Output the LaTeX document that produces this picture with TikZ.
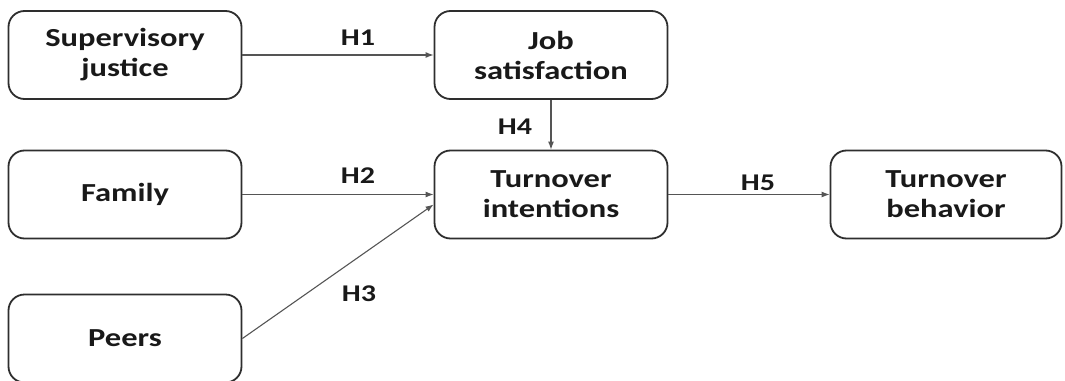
\documentclass[tikz,border=0pt]{standalone}
\usepackage{fontspec}
\setmainfont{Carlito}[FakeStretch=1.25]
\usetikzlibrary{arrows.meta}
\definecolor{boxline}{HTML}{2E2E2E}
\definecolor{arrline}{HTML}{555555}
\tikzset{
  box/.style={draw=boxline, line width=1.8pt, rounded corners=16pt, minimum width=233pt, minimum height=88pt, align=center, font=\fontsize{26}{30}\selectfont\bfseries, text=black!90, inner sep=0pt},
  conn/.style={draw=arrline, line width=1.1pt, -{Latex[length=8pt,width=6pt]}},
  hlab/.style={font=\fontsize{24}{26}\selectfont\bfseries, text=black!90, inner sep=0pt}
}
\begin{document}
\begin{tikzpicture}[x=1pt,y=-1pt]
\useasboundingbox (0,0) rectangle (1065,380);
\begin{scope}
\clip (0,0) rectangle (1065,380);
\node[box] (sj) at (125,55) {Supervisory\\justice};
\node[box] (js) at (551,55) {Job\\satisfaction};
\node[box] (fam) at (125,194.5) {Family};
\node[box] (ti) at (551,194.5) {Turnover\\intentions};
\node[box, minimum width=231pt] (tb) at (946,194.5) {Turnover\\behavior};
\node[box] (peers) at (125,338.5) {Peers};
\end{scope}
\coordinate (tiin) at ([yshift=-10pt]ti.west);
\draw[conn] (sj.east) -- (js.west);
\draw[conn] (fam.east) -- (ti.west);
\draw[conn] (peers.east) -- (tiin);
\draw[conn] (js.south) -- (ti.north);
\draw[conn] (ti.east) -- (tb.west);
\node[hlab] (h1) at (358,38) {H1};
\node[hlab] (h2) at (358,176) {H2};
\node[hlab] (h3) at (359,294) {H3};
\node[hlab] (h4) at (515,127) {H4};
\node[hlab] (h5) at (758,183) {H5};
\end{tikzpicture}
\end{document}
